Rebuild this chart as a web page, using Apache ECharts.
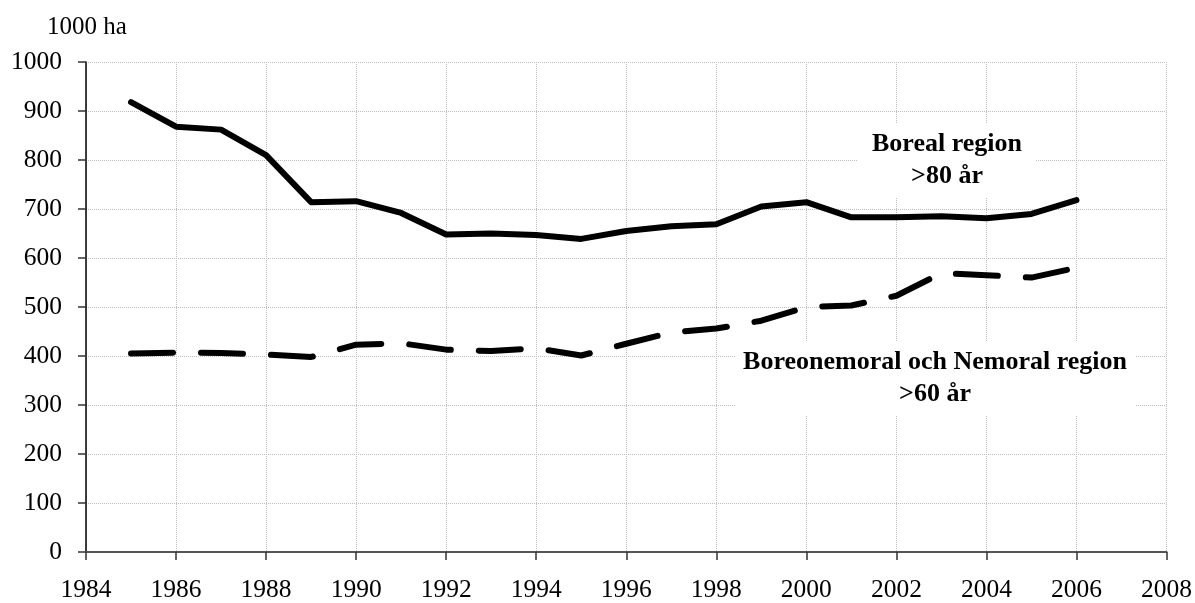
<!DOCTYPE html>
<html>
<head>
<meta charset="utf-8">
<script src="https://cdn.jsdelivr.net/npm/echarts@6/dist/echarts.min.js"></script>
<style>
  html, body { margin: 0; padding: 0; background: #fff; }
  #chart { width: 1195px; height: 603px; }
</style>
</head>
<body>
<div id="chart"></div>
<script>
// data (1000 ha)
const years = [1985, 1986, 1987, 1988, 1989, 1990, 1991, 1992, 1993, 1994, 1995,
  1996, 1997, 1998, 1999, 2000, 2001, 2002, 2003, 2004, 2005, 2006];
const boreal = [918, 868, 862, 810, 714, 716, 692, 648, 650, 647, 639,
  655, 665, 669, 705, 714, 683, 683, 685, 681, 690, 718];
const boreoNemoral = [405, 407, 406, 403, 398, 423, 426, 413, 410, 416, 401,
  425, 448, 456, 472, 500, 503, 523, 569, 565, 560, 580];
const yearTicks = { min: 1984, max: 2008, step: 2 };
const valueTicks = { min: 0, max: 1000, step: 100 };

const font = "Liberation Serif";

function pairs(values) {
  return years.map((y, i) => [y, values[i]]);
}

const chart = echarts.init(document.getElementById("chart"));
chart.setOption({
  animation: false,
  backgroundColor: "#fff",
  grid: { left: 86, right: 27, top: 62, bottom: 51, containLabel: false },
  xAxis: {
    type: "value",
    min: yearTicks.min,
    max: yearTicks.max,
    interval: yearTicks.step,
    axisLine: { show: true, onZero: false, lineStyle: { color: "#555", width: 2 } },
    axisTick: { show: true, length: 8, lineStyle: { color: "#333", width: 1.5 } },
    axisLabel: { color: "#000", fontFamily: font, fontSize: 25.5, margin: 25, formatter: v => String(v) },
    splitLine: { show: true, lineStyle: { color: "#bdbdbd", type: "dotted", width: 1 } }
  },
  yAxis: {
    type: "value",
    min: valueTicks.min,
    max: valueTicks.max,
    interval: valueTicks.step,
    axisLine: { show: true, lineStyle: { color: "#000", width: 1.5 } },
    axisTick: { show: true, length: 8, lineStyle: { color: "#333", width: 1.5 } },
    axisLabel: { color: "#000", fontFamily: font, fontSize: 25.5, margin: 24, formatter: v => String(v) },
    splitLine: { show: true, lineStyle: { color: "#bdbdbd", type: "dotted", width: 1 } }
  },
  series: [
    {
      name: "Boreal region >80 år",
      type: "line",
      data: pairs(boreal),
      showSymbol: false,
      symbol: "none",
      lineStyle: { color: "#000", width: 6, cap: "round", join: "round" },
      z: 5
    },
    {
      name: "Boreonemoral och Nemoral region >60 år",
      type: "line",
      data: pairs(boreoNemoral),
      showSymbol: false,
      symbol: "none",
      lineStyle: { color: "#000", width: 6, type: [42, 28], cap: "round", join: "round" },
      z: 5
    }
  ],
  graphic: [
    {
      type: "text",
      left: 47,
      top: 15,
      style: { text: "1000 ha", font: "25px " + font, fill: "#000" }
    },
    {
      type: "text",
      x: 947,
      y: 124,
      z: 10,
      style: {
        text: "Boreal region\n>80 år",
        font: "bold 26px " + font,
        fill: "#000",
        align: "center",
        lineHeight: 32,
        backgroundColor: "#fff",
        padding: [4, 14, 6, 14]
      }
    },
    {
      type: "text",
      x: 935,
      y: 342,
      z: 10,
      style: {
        text: "Boreonemoral och Nemoral region\n>60 år",
        font: "bold 26px " + font,
        fill: "#000",
        align: "center",
        lineHeight: 32,
        backgroundColor: "#fff",
        padding: [4, 8, 6, 8]
      }
    }
  ]
});
</script>
</body>
</html>
